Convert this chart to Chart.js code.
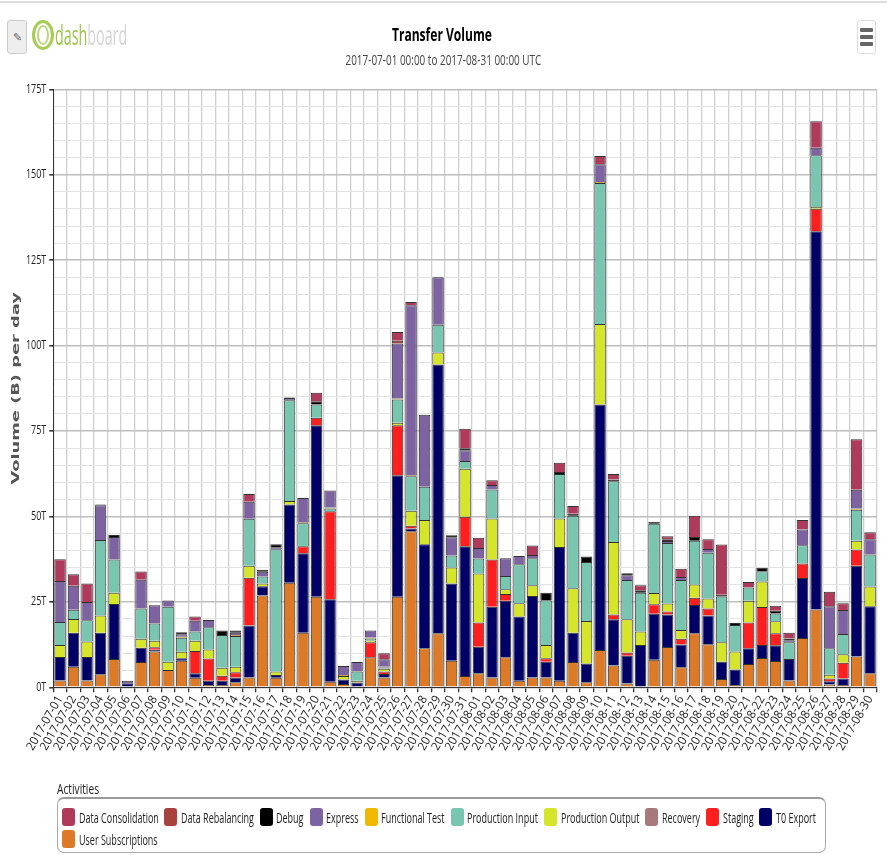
<!DOCTYPE html>
<html><head><meta charset="utf-8">
<style>
html,body{margin:0;padding:0;background:#fff;overflow:hidden}
#wrap{position:relative;width:887px;height:855px;font-family:"Open Sans",sans-serif;filter:blur(.35px)}
canvas{position:absolute;left:0;top:0}
#rule{position:absolute;left:0;right:0;top:1px;height:2px;background:#ddd}
#btn{position:absolute;left:7px;top:20px;width:18px;height:32px;border:1px solid #ccc;border-radius:3px;background:#eee;color:#666;font-size:11px;text-align:center;line-height:32px}
#logo{position:absolute;left:32px;top:20px;height:30px;display:flex;align-items:center}
#logo i{display:block;width:22px;height:30px;border:3px solid #a6cc55;border-radius:50%;box-sizing:border-box;margin-right:1px;box-shadow:inset 0 0 0 2px #fff,inset 0 0 0 4px #b9d77c}
#logo em{font-style:normal;display:block;font-size:27px;line-height:30px;transform:scaleX(.53);transform-origin:left center;white-space:nowrap}
#menu{position:absolute;left:857px;top:20px;width:19px;height:34px;border:1px solid #ddd;border-radius:3px;box-sizing:border-box;padding:7px 2px}
#menu b{display:block;height:4px;background:#666;margin-bottom:3px;border-radius:1px}
#ltitle{position:absolute;left:57px;top:779px;font-size:15px;color:#222;line-height:18px;transform:scaleX(.68);transform-origin:left center}
#legend{position:absolute;left:57px;top:797px;width:769px;height:56px;box-sizing:border-box;border:1px solid #aaa;border-top:2px solid #999;border-radius:7px;padding:9px 0 0 4px;display:flex;flex-wrap:wrap;align-content:flex-start;row-gap:4px}
.it{display:flex;align-items:center;height:18px;margin-right:6px;font-size:15px;color:#222;white-space:nowrap}
.it s{display:block;width:13px;height:18px;border-radius:3px;margin-right:3.5px}
.it span{display:block;transform:scaleX(.6);transform-origin:left center}
</style></head><body>
<div id="wrap">
<canvas id="c" width="887" height="855"></canvas>
<div id="rule"></div>
<div id="btn">&#9998;</div>
<div id="logo"><i></i><em><span style="color:#9cc54a">dash</span><span style="color:#d4d4d4">board</span></em></div>
<div id="menu"><b></b><b></b><b></b></div>
<div id="ltitle">Activities</div>
<div id="legend"></div>
</div>
<script src="https://cdn.jsdelivr.net/npm/chart.js@4"></script>
<script>
const dates=["2017-07-01","2017-07-02","2017-07-03","2017-07-04","2017-07-05","2017-07-06","2017-07-07","2017-07-08","2017-07-09","2017-07-10","2017-07-11","2017-07-12","2017-07-13","2017-07-14","2017-07-15","2017-07-16","2017-07-17","2017-07-18","2017-07-19","2017-07-20","2017-07-21","2017-07-22","2017-07-23","2017-07-24","2017-07-25","2017-07-26","2017-07-27","2017-07-28","2017-07-29","2017-07-30","2017-07-31","2017-08-01","2017-08-02","2017-08-03","2017-08-04","2017-08-05","2017-08-06","2017-08-07","2017-08-08","2017-08-09","2017-08-10","2017-08-11","2017-08-12","2017-08-13","2017-08-14","2017-08-15","2017-08-16","2017-08-17","2017-08-18","2017-08-19","2017-08-20","2017-08-21","2017-08-22","2017-08-23","2017-08-24","2017-08-25","2017-08-26","2017-08-27","2017-08-28","2017-08-29","2017-08-30"];
const userSubscriptions=[2,6,2,3.8,8.3,0,7.4,10.5,5.1,7.8,2.8,.7,.7,1.5,2.9,26.9,2.8,30.6,16,26.5,1.6,1,0,8.8,2.9,26.5,45.7,11.4,15.8,7.8,3.3,4.1,2.9,8.8,1.9,2.9,2.9,1.9,7.4,1.5,10.9,6.4,1.1,0,8.1,11.8,5.9,15.8,12.6,2.4,.7,6.8,8.6,7.7,2,14.4,22.8,.8,.7,9,4.1];
const t0Export=[6.9,10,6.9,12.2,16.1,1.2,4.2,.5,0,.7,1.3,1.2,1.2,1.4,15.2,2.7,.8,22.9,23.2,50.2,24.2,1.3,1.4,0,1,35.6,.8,30.5,78.7,22.6,38,7.8,20.7,16.5,18.8,23.8,4.6,39.2,8.6,5.5,71.9,13.5,8.1,12.4,13.4,9.5,6.6,8.3,8.4,5.1,4.5,4.6,3.8,4.6,6.3,17.6,110.7,1,1.9,26.6,19.6];
const staging=[0,0,0,0,0,0,0,.7,0,0,6.5,6.5,1.5,1.5,14,0,0,0,2.1,2.2,25.7,0,0,4.4,.7,14.6,.8,0,0,0,8.6,7.1,13.8,2,0,0,1,0,0,0,0,1.4,1,0,2.8,.9,1.7,2.1,2.1,0,0,7.6,11.1,3.5,0,4.2,6.6,.8,4.6,4.7,0];
const recovery=[0,0,0,0,0,0,0,0,0,0,0,0,0,0,0,0,0,0,0,0,0,0,0,0,0,0,0,0,0,0,0,0,0,0,0,0,0,0,0,0,0,0,0,0,0,0,0,0,0,0,0,0,0,0,0,0,0,0,0,0,0];
const productionOutput=[3.5,4,4.5,5,3.3,0,2.6,1.9,2.4,1.9,3,2.7,2.3,1.6,3.5,.8,1,1,0,0,0,1,.5,.5,.8,.7,4.4,7.1,3.5,4.7,14.1,14.3,12,1.4,3.9,3.2,3.9,8.3,13,12.4,23.5,21.2,9.7,3.9,3.3,2.3,2.6,3.9,2.9,5.7,5.3,6.3,7.5,3.5,0,0,.5,1.1,2.5,2.6,5.8];
const productionInput=[6.7,2.7,6.2,22.1,9.7,0,8.9,5.1,16.1,4.1,2.7,6.5,9.6,9,13.7,2,35.8,29.5,6.7,3.9,.8,0,2.7,.6,.4,6.8,10.1,9.7,8.1,3.5,2.2,4.4,8.5,3.9,11.4,7.9,13.1,13,21.2,17.3,41.3,17.8,11.5,11.4,20.3,17.7,14.6,12.8,13.4,13.4,7.7,3.9,3,2.3,4.9,5.4,15.1,7.7,5.9,9.1,9.4];
const functionalTest=[0,0,0,0,0,0,0,0,0,.3,0,0,0,.3,0,0,0,0,.3,0,.3,.3,.2,.3,.2,.3,.3,0,0,0,0,0,0,0,0,0,0,0,0,0,.3,0,0,0,0,0,0,0,0,0,0,0,0,0,0,0,0,0,0,.3,0];
const express=[12,7,5.4,10.2,6.6,.7,8.4,5.3,1.8,.7,3.2,2.1,0,.7,5,1.4,.6,.4,7.1,0,5,2.6,2.6,2,2.2,16.1,49.7,21.1,13.9,5.3,3.2,3.1,1.3,5.2,2.4,.9,0,0,0,0,5.2,0,1.4,0,0,.6,.9,0,1.1,0,0,0,0,0,.6,4.6,2.2,12.3,7,5.5,4.4];
const debug=[0,0,0,.2,.6,0,0,0,0,.6,0,0,1.3,.6,0,.6,.9,.4,0,.9,0,0,0,0,0,0,0,0,0,.6,.6,0,0,0,0,0,2.2,.6,.6,1.6,0,.5,.6,.7,.5,.5,0,1.1,0,.5,.6,0,1,.8,.5,0,0,0,0,0,0];
const dataRebalancing=[0,0,0,0,0,0,0,0,0,0,0,0,0,0,0,0,0,0,0,0,0,0,0,0,0,.8,0,0,0,0,0,0,0,0,0,0,0,0,0,0,0,0,0,0,0,0,0,0,0,0,0,0,0,0,0,0,0,0,0,0,0];
const dataConsolidation=[6.4,3.4,5.4,0,0,0,2.4,0,0,0,1.2,0,0,0,2.3,0,0,0,0,2.5,0,0,0,0,1.8,2.6,1,0,0,0,5.7,3,1.4,0,0,2.8,0,2.7,2.3,0,2.4,1.6,0,1.5,0,.9,2.4,6.2,2.8,14.7,0,1.6,0,1.5,1.7,2.8,7.8,4.3,2,14.8,2.1];
const yTicks=["0T","25T","50T","75T","100T","125T","150T","175T"];
const legendNames=["Data Consolidation","Data Rebalancing","Debug","Express","Functional Test","Production Input","Production Output","Recovery","Staging","T0 Export","User Subscriptions"];
const legendColors=["#b03a5b","#a8423f","#000000","#7e63a2","#f0b800","#78c5b0","#d5e52a","#a67a7a","#ff1f1f","#000066","#dd7a27"];
const seriesValues=[dataConsolidation,dataRebalancing,debug,express,functionalTest,productionInput,productionOutput,recovery,staging,t0Export,userSubscriptions];

const bodyFont='"Open Sans",sans-serif';
const datasets=legendNames.map((n,i)=>({label:n,data:seriesValues[i].map(v=>v||null),backgroundColor:legendColors[i],borderColor:'rgba(25,25,25,.9)',borderWidth:1,stack:'a'})).reverse();

/* The reference text is horizontally condensed (or, for the axis title, stretched): squeeze it while it is drawn. */
const canvas=document.getElementById('c');
const ctx2d=canvas.getContext('2d');
const origFill=ctx2d.fillText.bind(ctx2d);
ctx2d.fillText=function(t,x,y,m){
  const f=ctx2d.font;let k=1,dx=0;
  if(f.includes('DejaVu'))k=1.62;
  else if(f.includes('bold')){k=.67;dx=3.5}
  else if(f.includes('14px')){k=.71;dx=5}
  else if(/^\d+T$/.test(t))k=.75;
  else k=.97;
  ctx2d.save();ctx2d.translate(x+dx,y);ctx2d.scale(k,1);origFill(t,0,0);ctx2d.restore();
};

new Chart(canvas,{
 type:'bar',
 data:{labels:dates,datasets},
 options:{
  responsive:false,animation:false,
  layout:{padding:{left:0,right:10.2,top:0,bottom:0}},
  datasets:{bar:{categoryPercentage:1,barPercentage:.85}},
  plugins:{
   legend:{display:false},
   tooltip:{enabled:false},
   title:{display:true,text:'Transfer Volume',color:'#000',font:{family:bodyFont,size:18,weight:'bold'},padding:{top:25,bottom:3}},
   subtitle:{display:true,text:'2017-07-01 00:00 to 2017-08-31 00:00 UTC',color:'#444',font:{family:bodyFont,size:14},padding:{top:3,bottom:20}}
  },
  scales:{
   x:{stacked:true,
      afterFit(a){a.height=167.7},
      grid:{color:'#cfcfcf',lineWidth:1.3,tickColor:'#333',tickLength:5,offset:true},
      border:{color:'#333',width:1},
      ticks:{autoSkip:false,minRotation:60,maxRotation:60,color:'#222',padding:1,font:{family:bodyFont,size:12}}},
   y:{stacked:true,min:0,max:175,
      afterFit(a){a.width=53.3},
      title:{display:true,text:'Volume (B) per day',color:'#555',font:{family:'"DejaVu Sans"',size:11,weight:'bold'},padding:{top:10,bottom:0}},
      grid:{lineWidth:c=>c.tick&&c.tick.value%25===0?1.6:1,
            color:c=>c.tick&&c.tick.value%25===0?'#bdbdbd':'#e3e3e3',
            tickColor:c=>c.tick&&c.tick.value%25===0?'#333':'rgba(0,0,0,0)',tickLength:4},
      border:{color:'#333',width:1},
      ticks:{stepSize:5,autoSkip:false,padding:3,color:'#222',font:{family:bodyFont,size:12},
             callback:v=>v%25===0?yTicks[v/25]:''}}
  }
 }
});
const lg=document.getElementById('legend');
legendNames.forEach((n,i)=>{
  const d=document.createElement('div');d.className='it';
  const s=document.createElement('s');s.style.background=legendColors[i];d.appendChild(s);
  const t=document.createElement('span');t.textContent=n;d.appendChild(t);lg.appendChild(d);
  t.style.marginRight=(-t.offsetWidth*(1-.6))+'px';
});
</script>
</body></html>
